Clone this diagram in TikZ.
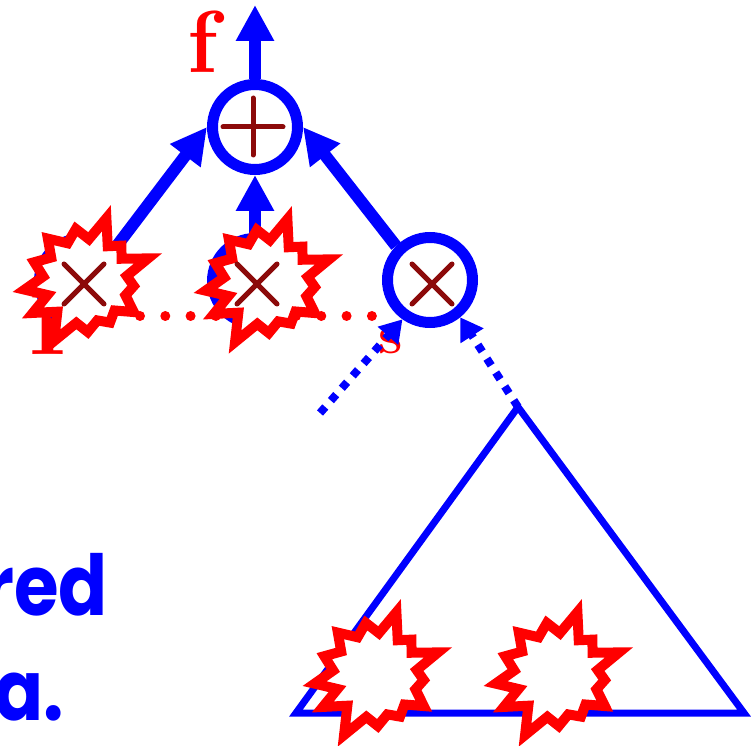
\documentclass[tikz,border=0pt]{standalone}
\usepackage{fontspec}
\newfontfamily\comicfont{Poppins}
\usetikzlibrary{arrows.meta}
\definecolor{pblue}{RGB}{0,0,255}
\definecolor{pred}{RGB}{255,0,0}
\definecolor{dred}{RGB}{140,10,10}
\begin{document}
\begin{tikzpicture}[x=1pt,y=-1pt,
  circ/.style={circle,draw=pblue,line width=11pt,fill=white,minimum size=85pt,inner sep=0pt},
  arr/.style={draw=pblue,line width=12pt,-{Triangle[width=36pt,length=36pt]}},
  darr/.style={draw=pblue,line width=8pt,dash pattern=on 8pt off 8.5pt,-{Triangle[width=26pt,length=22pt]}},
  rdots/.style={draw=pred,line width=10pt,line cap=round,dash pattern=on 0pt off 25.3pt},
  sign/.style={draw=dred,line width=5pt,line cap=round},
  lab/.style={text=pred,font=\fontsize{88}{88}\selectfont\bfseries,inner sep=0pt},
  slab/.style={text=pred,font=\fontsize{55}{55}\selectfont\bfseries,inner sep=0pt},
  big/.style={text=pblue,font=\comicfont\bfseries\fontsize{84}{84}\selectfont,inner sep=0pt},
  tri/.style={draw=pblue,line width=7pt,line join=miter},
  burst/.pic={\draw[draw=pred,fill=white,line width=10pt,line join=miter,miter limit=25]
    (-149:62pt) -- (-133:42pt) -- (-118:68pt) -- (-103:43pt) -- (-88:51pt) -- (-74:41pt)
    -- (-60:48pt) -- (-46:41pt) -- (-33:57pt) -- (-20:42pt) -- (-6:48pt) -- (7:41pt)
    -- (20:66pt) -- (32:42pt) -- (45:50pt) -- (58:41pt) -- (72:66pt) -- (86:42pt)
    -- (101:53pt) -- (116:42pt) -- (132:57pt) -- (146:42pt) -- (160:55pt) -- (174:43pt)
    -- (188:62pt) -- (200:41pt) -- cycle;}
]
\useasboundingbox (0,0) rectangle (753,746);

% labels (partly hidden later)
\node[lab,anchor=base west] (lf) at (187,73) {f};
\node[lab,anchor=base west] (lp) at (29,355) {P};
\node[slab,anchor=base west] (ls) at (378,353) {s};

% big text at left
\node[big,anchor=base east] (t1) at (108,615) {\scalebox{0.86}[1]{red}};
\node[big,anchor=base east] (t2) at (64,720) {\scalebox{0.86}[1]{a.}};

% coordinates
\coordinate (top) at (255,5);
\coordinate (d1a) at (140,316);
\coordinate (d1b) at (216,316);
\coordinate (d2a) at (296,316);
\coordinate (d2b) at (372,316);
\coordinate (dstart) at (320,413);
\coordinate (apex) at (518,407);
\coordinate (bl) at (296,713);
\coordinate (br) at (744,713);

% triangle
\draw[tri] (apex) -- (br) -- (bl) -- cycle;

% red dotted lines
\draw[rdots] (d1a) -- (d1b);
\draw[rdots] (d2a) -- (d2b);

% nodes
\node[circ] (plus) at (255,127) {};
\node[circ] (c1) at (82,281) {};
\node[circ] (c2) at (255,281) {};
\node[circ] (c3) at (430,280) {};

% solid arrows
\draw[arr] (plus.north) -- (top);
\draw[arr] (c1.north east) -- (plus.west);
\draw[arr] (c2.north) -- (plus.south);
\draw[arr] (c3.north west) -- (plus.east);

% dotted arrows
\draw[darr] (dstart) -- (c3.235);
\draw[darr] (apex) -- (c3.-51);

% bursts
\pic at (86,281) {burst};
\pic at (267,282) {burst};
\pic at (376,675) {burst};
\pic at (557,675) {burst};

% signs
\draw[sign] (253,98) -- (253,155);
\draw[sign] (223,127) -- (283,127);
\foreach \c/\cx/\cy in {m1/84/284, m2/257/284, m3/432/284}{
  \draw[sign] (\cx-20,\cy-20) -- (\cx+20,\cy+20);
  \draw[sign] (\cx-20,\cy+20) -- (\cx+20,\cy-20);
}
\end{tikzpicture}
\end{document}
